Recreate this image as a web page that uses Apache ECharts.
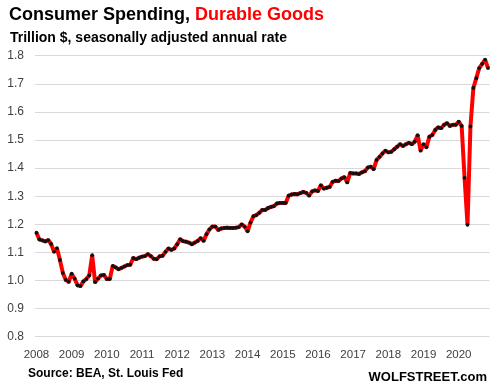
<!DOCTYPE html>
<html>
<head>
<meta charset="utf-8">
<script src="https://cdn.jsdelivr.net/npm/echarts@6/dist/echarts.min.js"></script>
<style>html,body{margin:0;padding:0;background:#fff}#c{width:493px;height:391px}</style>
</head>
<body>
<div id="c"></div>
<script>
const years = ['2008','2009','2010','2011','2012','2013','2014','2015','2016','2017','2018','2019','2020'];
const yTicks = [0.8, 0.9, 1.0, 1.1, 1.2, 1.3, 1.4, 1.5, 1.6, 1.7, 1.8];
const v2008 = [1.170,1.146,1.143,1.139,1.144,1.130,1.102,1.115,1.073,1.027,1.002,0.995];
const v2009 = [1.024,1.007,0.983,0.980,0.997,1.005,1.018,1.090,0.994,1.007,1.018,1.020];
const v2010 = [1.005,1.005,1.052,1.047,1.040,1.045,1.050,1.055,1.056,1.080,1.076,1.081];
const v2011 = [1.085,1.087,1.094,1.087,1.077,1.076,1.086,1.088,1.102,1.114,1.109,1.114];
const v2012 = [1.129,1.147,1.140,1.138,1.135,1.129,1.135,1.141,1.151,1.141,1.165,1.182];
const v2013 = [1.192,1.192,1.180,1.185,1.187,1.188,1.187,1.187,1.188,1.190,1.200,1.192];
const v2014 = [1.175,1.206,1.229,1.233,1.241,1.251,1.251,1.258,1.262,1.265,1.274,1.276];
const v2015 = [1.276,1.276,1.302,1.306,1.308,1.307,1.311,1.315,1.312,1.302,1.317,1.321];
const v2016 = [1.318,1.339,1.327,1.330,1.333,1.351,1.355,1.354,1.363,1.368,1.349,1.383];
const v2017 = [1.381,1.381,1.379,1.385,1.389,1.402,1.405,1.396,1.429,1.440,1.452,1.462];
const v2018 = [1.456,1.458,1.467,1.476,1.485,1.479,1.485,1.490,1.485,1.494,1.517,1.462];
const v2019 = [1.485,1.474,1.512,1.518,1.536,1.545,1.542,1.554,1.560,1.550,1.554,1.554];
const v2020 = [1.565,1.550,1.365,1.198,1.548,1.685,1.720,1.756,1.771,1.786,1.756];

const values = [].concat(v2008,v2009,v2010,v2011,v2012,v2013,v2014,v2015,v2016,v2017,v2018,v2019,v2020);
const categories = [];
years.forEach(y => { for (let m = 1; m <= 12; m++) categories.push(y + '-' + String(m).padStart(2,'0')); });
categories.length = values.length;

const chart = echarts.init(document.getElementById('c'), null, {renderer:'canvas'});
const F = '"Liberation Sans", Arial, sans-serif';
chart.setOption({
  animation: false,
  backgroundColor: '#fff',
  grid: {left: 35, right: 3.5, top: 55.7, bottom: 54.3, containLabel: false},
  xAxis: {
    type: 'category', data: categories, boundaryGap: true,
    axisLine: {show: false}, axisTick: {show: false}, splitLine: {show: false},
    axisLabel: {
      interval: (i) => i % 12 === 0,
      formatter: (v) => v.slice(0,4),
      color: '#404040', fontSize: 11.5, fontFamily: F, margin: 12
    }
  },
  yAxis: {
    type: 'value', min: yTicks[0], max: yTicks[yTicks.length-1], interval: 0.1,
    axisLine: {show: false}, axisTick: {show: false},
    splitLine: {show: true, lineStyle: {color: '#d9d9d9', width: 1}},
    axisLabel: {formatter: (v) => v.toFixed(1), color: '#404040', fontSize: 12, fontFamily: F, margin: 11}
  },
  series: [{
    type: 'line', data: values,
    showSymbol: true, showAllSymbol: true, symbol: 'circle', symbolSize: 3.8,
    itemStyle: {color: '#111'},
    lineStyle: {color: '#ff0000', width: 4},
    z: 3
  }],
  graphic: [
    {type:'text', x: 9, y: 15, style: {
      text: '{a|Consumer Spending, }{b|Durable Goods}',
      verticalAlign: 'middle',
      rich: {
        a: {fontSize: 18, fontWeight: 'bold', fontFamily: F, fill: '#000'},
        b: {fontSize: 18, fontWeight: 'bold', fontFamily: F, fill: '#ff0000'}
      }
    }},
    {type:'text', x: 10, y: 38, style: {text: 'Trillion $, seasonally adjusted annual rate', font: 'bold 14px ' + F, fill: '#000', verticalAlign: 'middle'}},
    {type:'text', x: 28, y: 374, style: {text: 'Source: BEA, St. Louis Fed', font: 'bold 12px ' + F, fill: '#000', verticalAlign: 'middle'}},
    {type:'text', x: 487, y: 377, style: {text: 'WOLFSTREET.com', font: 'bold 13px ' + F, fill: '#000', align: 'right', verticalAlign: 'middle'}}
  ]
});
</script>
</body>
</html>
